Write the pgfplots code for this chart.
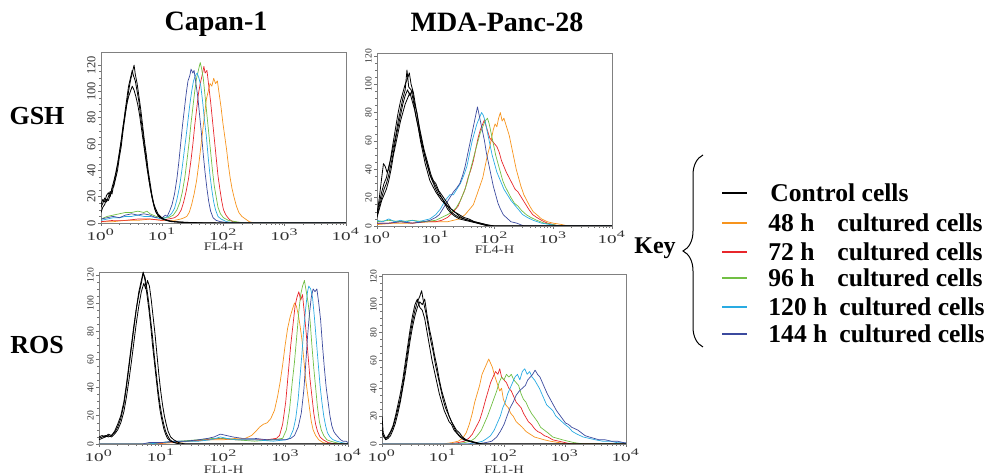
\documentclass[border=0pt]{standalone}
\usepackage{pgfplots}
\pgfplotsset{compat=1.18}
\usepackage{fontspec}
\setmainfont{Liberation Serif}
\usetikzlibrary{decorations.pathreplacing}
\definecolor{cOr}{RGB}{247,148,29}
\definecolor{cRd}{RGB}{232,38,43}
\definecolor{cGr}{RGB}{113,191,68}
\definecolor{cLb}{RGB}{41,171,226}
\definecolor{cDb}{RGB}{59,74,158}
\pgfplotsset{
 panel/.style={
  scale only axis, anchor=north west,
  xmin=0, xmax=4, ymin=0,
  xtick={0,1,2,3,4},
  xticklabels={10\textsuperscript{0},10\textsuperscript{1},10\textsuperscript{2},10\textsuperscript{3},10\textsuperscript{4}},
  minor xtick={0.301,0.477,0.602,0.699,0.778,0.845,0.903,0.954,1.301,1.477,1.602,1.699,1.778,1.845,1.903,1.954,2.301,2.477,2.602,2.699,2.778,2.845,2.903,2.954,3.301,3.477,3.602,3.699,3.778,3.845,3.903,3.954},
  ytick={0,20,...,120}, minor y tick num=3,
  tick pos=left, tick align=outside,
  major tick length=1.5pt, minor tick length=0.8pt,
  axis line style={black!50, line width=0.4pt},
  tick style={black!55, line width=0.3pt},
  /pgf/number format/assume math mode=true,
  xticklabel style={font=\fontsize{6}{7}\selectfont, xscale=1.6, text=black!80, inner sep=1pt},
  yticklabel style={font=\fontsize{4.8}{5}\selectfont, rotate=90, anchor=south, text=black!80, inner sep=1pt},
  xlabel style={font=\fontsize{5.8}{6}\selectfont, xscale=1.25, text=black!80, at={(axis description cs:0.5,0)}, anchor=north, inner sep=0pt},
  every axis plot/.append style={line width=0.35pt, line join=round},
 },
 K/.style={black, line width=0.4pt, forget plot},
}
\begin{document}
\begin{tikzpicture}
\useasboundingbox (0,0) rectangle (496.5pt,-237.5pt);
% ---------------- Panel 1: GSH, Capan-1
\begin{axis}[panel, at={(50.5pt,-26pt)}, width=122.5pt, height=85.5pt, ymax=130, xlabel={FL4-H}, xlabel style={yshift=-9.5pt},
 yticklabel style={font=\fontsize{6.2}{7}\selectfont}]
\addplot[cOr] coordinates {(0,1) (0.2,1) (0.4,2) (0.6,2) (0.8,3) (1.0,2) (1.2,2) (1.3,3) (1.36,4) (1.40,5) (1.44,8) (1.48,14) (1.52,22) (1.56,32) (1.60,46) (1.63,58) (1.66,70) (1.69,82) (1.72,94) (1.75,100) (1.78,106) (1.81,104) (1.84,110) (1.87,106) (1.90,108) (1.93,98) (1.96,88) (1.99,76) (2.02,66) (2.05,56) (2.08,44) (2.11,34) (2.14,26) (2.17,20) (2.21,13) (2.25,8) (2.30,5) (2.36,3) (2.42,1) (2.5,0) (4,0)};
\addplot[cRd] coordinates {(0,1) (0.2,2) (0.4,2) (0.6,3) (0.8,3) (1.0,2) (1.1,3) (1.2,4) (1.26,6) (1.31,10) (1.35,16) (1.39,24) (1.43,34) (1.47,48) (1.50,60) (1.53,74) (1.56,86) (1.59,98) (1.62,106) (1.65,112) (1.68,119) (1.70,114) (1.73,116) (1.76,104) (1.79,92) (1.82,78) (1.85,64) (1.88,50) (1.91,36) (1.94,26) (1.97,17) (2.0,10) (2.04,6) (2.09,3) (2.15,1) (2.3,0) (4,0)};
\addplot[cGr] coordinates {(0,3) (0.1,5) (0.2,6) (0.3,7) (0.4,8) (0.5,8) (0.6,9) (0.7,8) (0.75,9) (0.8,7) (0.9,5) (1.0,4) (1.1,4) (1.18,6) (1.24,10) (1.29,16) (1.33,24) (1.37,35) (1.41,50) (1.44,62) (1.47,76) (1.50,88) (1.53,100) (1.56,110) (1.59,116) (1.62,122) (1.64,118) (1.67,110) (1.70,96) (1.73,82) (1.76,68) (1.79,54) (1.82,40) (1.85,28) (1.88,20) (1.91,12) (1.95,7) (2.0,4) (2.08,2) (2.2,1) (2.35,0) (4,0)};
\addplot[cLb] coordinates {(0,2) (0.1,3) (0.2,4) (0.3,4) (0.4,5) (0.5,5) (0.6,6) (0.7,5) (0.8,5) (0.9,4) (1.0,3) (1.05,4) (1.1,5) (1.15,7) (1.20,11) (1.24,18) (1.28,27) (1.32,40) (1.36,55) (1.39,66) (1.42,78) (1.45,90) (1.48,100) (1.51,108) (1.54,112) (1.57,114) (1.60,110) (1.63,104) (1.66,92) (1.69,78) (1.72,66) (1.75,50) (1.78,36) (1.81,25) (1.84,16) (1.87,10) (1.91,5) (1.96,3) (2.05,1) (2.2,0) (4,0)};
\addplot[cDb] coordinates {(0,3) (0.1,4) (0.2,5) (0.3,4) (0.4,6) (0.5,7) (0.6,6) (0.7,7) (0.8,6) (0.9,4) (0.95,5) (1.0,4) (1.05,6) (1.08,5) (1.12,9) (1.16,14) (1.20,22) (1.24,34) (1.27,46) (1.30,60) (1.33,74) (1.36,86) (1.39,98) (1.42,108) (1.45,112) (1.47,117) (1.50,114) (1.52,116) (1.55,106) (1.58,96) (1.61,82) (1.64,68) (1.67,52) (1.70,38) (1.73,26) (1.76,16) (1.79,9) (1.83,4) (1.88,2) (1.95,1) (2.1,0) (4,0)};
\addplot[K] coordinates {(0,12) (0.03,15) (0.06,19) (0.09,16) (0.12,20) (0.15,24) (0.18,22) (0.21,30) (0.24,36) (0.27,44) (0.30,52) (0.33,62) (0.36,72) (0.39,84) (0.42,94) (0.45,104) (0.48,110) (0.51,116) (0.53,112) (0.56,108) (0.59,100) (0.62,92) (0.65,80) (0.68,70) (0.71,58) (0.74,48) (0.77,38) (0.80,28) (0.83,20) (0.86,14) (0.89,9) (0.93,6) (0.97,4) (1.02,3) (1.08,2) (1.15,1) (1.3,0.5) (1.5,0.3) (2,0) (4,0)};
\addplot[K] coordinates {(0,8) (0.03,12) (0.06,14) (0.09,18) (0.12,17) (0.15,21) (0.18,26) (0.21,28) (0.24,34) (0.27,40) (0.30,50) (0.33,58) (0.36,70) (0.39,80) (0.42,90) (0.45,100) (0.48,108) (0.51,114) (0.54,120) (0.56,113) (0.59,106) (0.62,96) (0.65,86) (0.68,74) (0.71,62) (0.74,52) (0.77,40) (0.80,31) (0.83,22) (0.86,15) (0.89,11) (0.93,7) (0.97,5) (1.02,3) (1.08,2) (1.2,1) (1.4,0.5) (1.7,0) (4,0)};
\addplot[K] coordinates {(0,14) (0.03,18) (0.06,16) (0.09,21) (0.12,23) (0.15,20) (0.18,27) (0.21,32) (0.24,38) (0.27,45) (0.30,54) (0.33,63) (0.36,74) (0.39,82) (0.42,90) (0.45,96) (0.48,100) (0.51,104) (0.54,101) (0.57,96) (0.60,90) (0.63,82) (0.66,72) (0.69,62) (0.72,52) (0.75,42) (0.78,33) (0.81,25) (0.84,18) (0.87,12) (0.90,8) (0.94,5) (1.0,3) (1.1,1.5) (1.25,0.8) (1.5,0) (4,0)};
\end{axis}
% ---------------- Panel 2: GSH, MDA-Panc-28
\begin{axis}[panel, at={(188.5pt,-26.5pt)}, width=117.5pt, height=86.5pt, ymax=122, xlabel={FL4-H}, xlabel style={yshift=-9.5pt}]
\addplot[cOr] coordinates {(0,1) (0.3,2) (0.6,2) (0.9,3) (1.2,3) (1.4,5) (1.5,8) (1.58,12) (1.64,15) (1.70,22) (1.75,28) (1.80,34) (1.84,42) (1.88,50) (1.92,56) (1.95,62) (1.98,68) (2.01,72) (2.04,70) (2.07,76) (2.10,80) (2.13,74) (2.16,76) (2.19,72) (2.22,68) (2.25,64) (2.28,58) (2.31,52) (2.34,46) (2.37,40) (2.41,34) (2.45,28) (2.50,22) (2.55,18) (2.60,14) (2.66,10) (2.72,8) (2.80,5) (2.90,3) (3.0,2) (3.15,1) (3.25,0) (4,0)};
\addplot[cRd] coordinates {(0,2) (0.2,2) (0.4,3) (0.6,2) (0.8,3) (1.0,3) (1.1,4) (1.2,6) (1.3,10) (1.38,14) (1.44,20) (1.50,26) (1.55,34) (1.60,40) (1.64,46) (1.68,54) (1.72,62) (1.76,68) (1.80,72) (1.83,75) (1.86,70) (1.89,66) (1.92,62) (1.96,60) (2.0,58) (2.04,56) (2.08,52) (2.12,46) (2.16,42) (2.20,38) (2.25,34) (2.30,30) (2.35,26) (2.40,24) (2.46,20) (2.52,16) (2.58,12) (2.65,8) (2.72,6) (2.80,4) (2.90,2) (3.0,1) (3.1,0) (4,0)};
\addplot[cGr] coordinates {(0,3) (0.2,4) (0.4,3) (0.6,4) (0.8,3) (1.0,4) (1.1,6) (1.2,8) (1.28,10) (1.35,13) (1.42,18) (1.48,24) (1.53,30) (1.58,38) (1.63,46) (1.68,54) (1.72,60) (1.76,66) (1.80,70) (1.84,74) (1.88,76) (1.91,72) (1.94,66) (1.98,58) (2.02,50) (2.06,44) (2.10,38) (2.14,32) (2.18,28) (2.23,24) (2.28,20) (2.34,16) (2.40,14) (2.46,11) (2.54,8) (2.62,6) (2.72,4) (2.85,2) (3.0,1) (3.1,0) (4,0)};
\addplot[cLb] coordinates {(0,4) (0.1,3) (0.2,5) (0.3,3) (0.4,4) (0.5,3) (0.6,4) (0.7,3) (0.8,4) (0.9,5) (1.0,8) (1.08,12) (1.16,18) (1.24,22) (1.30,22) (1.36,26) (1.42,30) (1.48,36) (1.53,42) (1.58,52) (1.62,60) (1.66,66) (1.70,72) (1.74,76) (1.78,80) (1.81,78) (1.84,74) (1.88,66) (1.92,58) (1.96,50) (2.0,44) (2.04,38) (2.08,34) (2.12,30) (2.16,26) (2.22,22) (2.28,18) (2.34,15) (2.40,12) (2.48,8) (2.56,6) (2.66,4) (2.80,2) (2.95,1) (3.1,0) (4,0)};
\addplot[cDb] coordinates {(0,2) (0.2,2) (0.4,3) (0.6,2) (0.8,3) (0.9,4) (1.0,6) (1.06,8) (1.12,12) (1.18,16) (1.24,20) (1.30,24) (1.36,27) (1.41,30) (1.46,36) (1.50,42) (1.54,50) (1.58,58) (1.62,66) (1.65,72) (1.68,78) (1.71,84) (1.74,78) (1.77,72) (1.80,66) (1.83,60) (1.86,52) (1.89,46) (1.92,40) (1.95,34) (1.98,28) (2.02,22) (2.06,16) (2.10,12) (2.15,8) (2.20,6) (2.28,3) (2.38,2) (2.5,0) (4,0)};
\addplot[K] coordinates {(0,8) (0.04,20) (0.08,34) (0.11,44) (0.14,42) (0.17,38) (0.20,40) (0.24,50) (0.28,60) (0.32,70) (0.36,80) (0.40,88) (0.44,94) (0.48,100) (0.52,104) (0.55,108) (0.58,100) (0.62,94) (0.66,84) (0.70,74) (0.74,64) (0.78,56) (0.82,48) (0.86,42) (0.90,36) (0.95,32) (1.0,28) (1.05,24) (1.10,20) (1.15,17) (1.20,14) (1.26,10) (1.32,8) (1.40,6) (1.48,5) (1.56,4) (1.64,3) (1.72,2) (1.80,1) (1.9,0) (4,0)};
\addplot[K] coordinates {(0,6) (0.04,12) (0.08,18) (0.12,22) (0.16,26) (0.20,32) (0.24,40) (0.28,50) (0.32,58) (0.36,66) (0.40,74) (0.44,80) (0.48,86) (0.52,90) (0.56,94) (0.60,88) (0.64,82) (0.68,74) (0.72,66) (0.76,58) (0.80,52) (0.84,46) (0.88,40) (0.92,34) (0.96,30) (1.0,26) (1.05,22) (1.10,20) (1.15,16) (1.20,14) (1.26,12) (1.32,10) (1.40,7) (1.48,5) (1.56,4) (1.66,3) (1.76,2) (1.85,1) (1.95,0) (4,0)};
\addplot[K] coordinates {(0,10) (0.04,16) (0.08,24) (0.12,30) (0.16,34) (0.20,42) (0.24,48) (0.28,56) (0.32,64) (0.36,74) (0.40,82) (0.44,90) (0.48,96) (0.51,110) (0.54,98) (0.58,96) (0.62,88) (0.66,78) (0.70,70) (0.74,60) (0.78,52) (0.82,44) (0.86,38) (0.90,32) (0.95,28) (1.0,24) (1.05,21) (1.10,18) (1.15,16) (1.20,12) (1.26,9) (1.32,7) (1.40,5) (1.50,4) (1.60,3) (1.70,2) (1.80,1) (1.9,0) (4,0)};
\addplot[K] coordinates {(0,7) (0.04,14) (0.08,20) (0.12,26) (0.16,30) (0.20,36) (0.24,44) (0.28,52) (0.32,62) (0.36,70) (0.40,78) (0.44,86) (0.48,92) (0.52,96) (0.56,92) (0.60,96) (0.64,86) (0.68,80) (0.72,70) (0.76,62) (0.80,54) (0.84,48) (0.88,42) (0.92,36) (0.96,32) (1.0,30) (1.05,25) (1.10,22) (1.15,19) (1.20,16) (1.26,12) (1.32,10) (1.40,8) (1.48,6) (1.56,5) (1.66,3) (1.76,2) (1.86,1) (2.0,0) (4,0)};
\end{axis}
% ---------------- Panel 3: ROS, Capan-1
\begin{axis}[panel, at={(49.5pt,-136pt)}, width=124.5pt, height=86pt, ymax=122, xlabel={FL1-H}, xlabel style={yshift=-10.5pt}]
\addplot[cOr] coordinates {(0,0) (0.9,0) (1.2,1) (1.5,2) (1.8,3) (2.0,3) (2.2,4) (2.35,4) (2.45,6) (2.52,9) (2.58,12) (2.64,14) (2.70,15) (2.76,18) (2.82,24) (2.87,34) (2.91,44) (2.95,56) (2.99,70) (3.03,82) (3.07,90) (3.11,96) (3.14,100) (3.17,98) (3.20,92) (3.23,84) (3.26,74) (3.29,60) (3.32,46) (3.35,36) (3.38,26) (3.41,16) (3.44,10) (3.48,6) (3.53,3) (3.60,1) (3.7,0) (4,0)};
\addplot[cRd] coordinates {(0,0) (0.8,0) (1.1,1) (1.4,2) (1.7,3) (1.95,4) (2.2,3) (2.5,3) (2.7,3) (2.85,4) (2.90,6) (2.95,14) (3.00,30) (3.04,50) (3.08,70) (3.12,86) (3.15,98) (3.18,104) (3.21,108) (3.24,102) (3.27,106) (3.30,92) (3.33,78) (3.36,62) (3.39,46) (3.42,34) (3.45,22) (3.48,14) (3.51,9) (3.55,5) (3.60,3) (3.68,1) (3.8,0) (4,0)};
\addplot[cGr] coordinates {(0,0) (0.8,0) (1.0,1) (1.3,2) (1.6,3) (1.85,4) (2.0,4) (2.2,3) (2.5,2) (2.8,3) (2.95,4) (3.01,10) (3.06,24) (3.10,42) (3.14,58) (3.18,78) (3.21,94) (3.24,106) (3.27,112) (3.30,116) (3.33,108) (3.36,100) (3.39,88) (3.42,70) (3.45,54) (3.48,40) (3.51,26) (3.54,16) (3.57,10) (3.61,6) (3.66,3) (3.72,2) (3.8,1) (3.9,0) (4,0)};
\addplot[cLb] coordinates {(0,0) (0.8,0) (1.0,1) (1.3,2) (1.6,2) (1.8,3) (1.95,5) (2.05,4) (2.2,3) (2.5,3) (2.8,2) (3.0,3) (3.06,4) (3.12,10) (3.16,18) (3.20,32) (3.23,48) (3.26,64) (3.29,82) (3.32,96) (3.35,108) (3.37,112) (3.40,110) (3.43,104) (3.46,90) (3.49,74) (3.52,58) (3.55,42) (3.58,30) (3.61,20) (3.64,13) (3.67,8) (3.71,5) (3.76,3) (3.82,2) (3.9,1) (4,0)};
\addplot[cDb] coordinates {(0,0) (0.7,0) (0.8,1) (1.0,1) (1.2,2) (1.4,2) (1.6,3) (1.75,4) (1.85,5) (1.95,7) (2.05,6) (2.15,5) (2.3,4) (2.5,4) (2.7,3) (2.9,3) (3.0,3) (3.08,4) (3.14,6) (3.20,12) (3.25,22) (3.29,38) (3.32,56) (3.35,76) (3.38,92) (3.41,104) (3.44,110) (3.47,108) (3.50,110) (3.53,100) (3.56,88) (3.59,70) (3.62,54) (3.65,40) (3.68,30) (3.71,20) (3.74,13) (3.77,9) (3.80,7) (3.84,5) (3.88,3) (3.92,2) (3.97,2) (4,1)};
\addplot[K] coordinates {(0,4) (0.05,5) (0.10,6) (0.15,5) (0.20,6) (0.25,8) (0.30,12) (0.35,18) (0.40,28) (0.44,40) (0.48,54) (0.52,68) (0.56,82) (0.60,96) (0.64,106) (0.68,114) (0.71,121) (0.74,118) (0.77,110) (0.80,100) (0.83,88) (0.86,76) (0.89,62) (0.92,50) (0.95,38) (0.98,28) (1.01,20) (1.04,14) (1.07,9) (1.10,6) (1.14,3) (1.20,1) (1.3,0) (4,0)};
\addplot[K] coordinates {(0,3) (0.05,4) (0.10,5) (0.15,6) (0.20,5) (0.25,7) (0.30,10) (0.35,15) (0.40,23) (0.44,33) (0.48,45) (0.52,58) (0.56,72) (0.60,86) (0.64,98) (0.68,108) (0.72,114) (0.75,110) (0.78,116) (0.81,112) (0.84,102) (0.87,90) (0.90,78) (0.93,64) (0.96,50) (0.99,38) (1.02,28) (1.05,20) (1.08,14) (1.11,9) (1.15,5) (1.20,3) (1.28,1) (1.38,0) (4,0)};
\addplot[K] coordinates {(0,5) (0.05,6) (0.10,5) (0.15,7) (0.20,6) (0.25,9) (0.30,14) (0.35,20) (0.40,30) (0.44,42) (0.48,56) (0.52,70) (0.56,84) (0.60,96) (0.64,108) (0.68,116) (0.71,122) (0.74,116) (0.77,106) (0.80,96) (0.83,84) (0.86,70) (0.89,58) (0.92,46) (0.95,34) (0.98,24) (1.01,17) (1.04,11) (1.07,7) (1.10,4) (1.15,2) (1.22,1) (1.3,0) (4,0)};
\end{axis}
% ---------------- Panel 4: ROS, MDA-Panc-28
\begin{axis}[panel, at={(191pt,-137pt)}, width=122pt, height=85pt, ymax=122, xlabel={FL1-H}, xlabel style={yshift=-10.5pt}]
\addplot[cOr] coordinates {(0,0) (1.0,0) (1.15,1) (1.25,2) (1.32,4) (1.38,8) (1.43,14) (1.48,22) (1.52,30) (1.56,36) (1.60,42) (1.64,50) (1.68,54) (1.72,58) (1.75,61) (1.78,58) (1.81,55) (1.84,50) (1.87,46) (1.90,42) (1.93,38) (1.96,40) (1.99,32) (2.03,28) (2.07,26) (2.11,22) (2.15,20) (2.20,16) (2.25,14) (2.30,12) (2.36,9) (2.43,7) (2.50,5) (2.58,4) (2.66,3) (2.76,2) (2.9,1) (3.0,0) (4,0)};
\addplot[cRd] coordinates {(0,0) (1.1,0) (1.25,1) (1.35,2) (1.42,4) (1.48,7) (1.54,12) (1.60,17) (1.65,24) (1.70,32) (1.74,38) (1.78,44) (1.82,48) (1.86,52) (1.90,50) (1.93,54) (1.96,48) (2.00,46) (2.04,44) (2.08,40) (2.12,38) (2.16,34) (2.20,30) (2.24,28) (2.28,26) (2.32,22) (2.36,19) (2.40,16) (2.45,14) (2.50,11) (2.55,9) (2.60,8) (2.66,6) (2.72,5) (2.80,3) (2.90,2) (3.0,1) (3.1,0) (4,0)};
\addplot[cGr] coordinates {(0,0) (1.2,0) (1.35,1) (1.45,2) (1.52,4) (1.58,7) (1.63,10) (1.68,15) (1.73,20) (1.78,26) (1.83,32) (1.88,38) (1.92,44) (1.96,48) (2.00,46) (2.04,50) (2.08,48) (2.12,50) (2.16,46) (2.20,44) (2.24,42) (2.28,36) (2.32,32) (2.36,30) (2.40,26) (2.45,22) (2.50,19) (2.55,16) (2.60,12) (2.66,10) (2.72,8) (2.80,5) (2.88,4) (2.96,3) (3.05,2) (3.15,1) (3.3,0) (4,0)};
\addplot[cLb] coordinates {(0,0) (1.4,0) (1.55,1) (1.65,2) (1.72,4) (1.78,6) (1.84,10) (1.89,15) (1.94,20) (1.98,26) (2.02,30) (2.06,36) (2.10,40) (2.14,44) (2.18,48) (2.22,50) (2.26,46) (2.30,52) (2.34,54) (2.38,50) (2.42,52) (2.46,48) (2.50,46) (2.54,43) (2.58,40) (2.62,36) (2.66,32) (2.70,28) (2.75,26) (2.80,24) (2.85,20) (2.90,18) (2.95,16) (3.00,14) (3.06,12) (3.12,9) (3.20,7) (3.30,5) (3.40,4) (3.50,3) (3.62,2) (3.75,2) (3.85,1) (3.96,1) (4,0)};
\addplot[cDb] coordinates {(0,0) (1.55,0) (1.70,1) (1.80,2) (1.88,5) (1.94,9) (2.00,14) (2.05,20) (2.10,26) (2.15,30) (2.20,35) (2.25,38) (2.30,40) (2.35,42) (2.39,46) (2.43,48) (2.47,50) (2.51,53) (2.55,50) (2.59,48) (2.63,44) (2.67,40) (2.71,36) (2.76,32) (2.81,28) (2.86,24) (2.91,21) (2.96,18) (3.01,15) (3.06,14) (3.11,12) (3.16,11) (3.21,10) (3.27,8) (3.33,6) (3.40,5) (3.48,4) (3.56,3) (3.66,3) (3.76,2) (3.86,2) (3.96,1) (4,1)};
\addplot[K] coordinates {(0,20) (0.02,8) (0.06,4) (0.10,5) (0.14,8) (0.18,12) (0.22,18) (0.26,25) (0.30,32) (0.34,42) (0.38,54) (0.42,66) (0.46,78) (0.50,88) (0.54,96) (0.58,102) (0.62,106) (0.65,110) (0.68,102) (0.72,94) (0.76,84) (0.80,74) (0.84,66) (0.88,56) (0.92,48) (0.96,40) (1.00,32) (1.04,26) (1.08,22) (1.12,18) (1.16,14) (1.20,10) (1.25,7) (1.30,5) (1.36,3) (1.44,2) (1.52,1) (1.6,0) (4,0)};
\addplot[K] coordinates {(0,12) (0.02,6) (0.06,3) (0.10,4) (0.14,6) (0.18,10) (0.22,15) (0.26,22) (0.30,30) (0.34,40) (0.38,50) (0.42,62) (0.46,74) (0.50,84) (0.54,92) (0.58,98) (0.62,102) (0.66,100) (0.70,104) (0.74,92) (0.78,82) (0.82,74) (0.86,64) (0.90,56) (0.94,46) (0.98,38) (1.02,32) (1.06,26) (1.10,20) (1.14,16) (1.18,13) (1.22,10) (1.27,8) (1.32,5) (1.38,3) (1.46,2) (1.55,1) (1.65,0) (4,0)};
\addplot[K] coordinates {(0,8) (0.03,5) (0.06,4) (0.10,6) (0.14,9) (0.18,13) (0.22,20) (0.26,28) (0.30,36) (0.34,46) (0.38,58) (0.42,70) (0.46,82) (0.50,92) (0.54,100) (0.58,104) (0.62,98) (0.66,96) (0.70,90) (0.74,80) (0.78,70) (0.82,60) (0.86,52) (0.90,44) (0.94,36) (0.98,30) (1.02,24) (1.06,20) (1.10,16) (1.14,14) (1.18,10) (1.22,8) (1.28,5) (1.34,3) (1.42,2) (1.50,1) (1.6,0) (4,0)};
\end{axis}
% ---------------- titles and row labels
\node[font=\fontsize{14}{16}\selectfont\bfseries] at (108pt,-12pt) {Capan-1};
\node[font=\fontsize{14}{16}\selectfont\bfseries] at (248.5pt,-11pt) {MDA-Panc-28};
\node[font=\fontsize{13}{15}\selectfont\bfseries] at (18.5pt,-58pt) {GSH};
\node[font=\fontsize{13}{15}\selectfont\bfseries] at (18.5pt,-172.5pt) {ROS};
% ---------------- key
\node[font=\fontsize{12}{14}\selectfont\bfseries] at (327.5pt,-124pt) {Key};
\draw[line width=0.5pt, decorate, decoration={brace, amplitude=10pt, aspect=0.5}] (351.5pt,-173.5pt) -- (351.5pt,-77.5pt);
\begin{scope}[font=\fontsize{12.8}{14}\selectfont\bfseries]
\draw[black, line width=0.8pt] (361pt,-96.5pt) -- (373.5pt,-96.5pt);
\node[anchor=west, inner sep=0pt] at (385pt,-96.5pt) {Control cells};
\draw[cOr, line width=0.8pt] (361pt,-111.5pt) -- (373.5pt,-111.5pt);
\node[anchor=west, inner sep=0pt] at (384pt,-111.5pt) {48 h};
\node[anchor=west, inner sep=0pt] at (418.5pt,-111.5pt) {cultured cells};
\draw[cRd, line width=0.8pt] (361pt,-126pt) -- (373.5pt,-126pt);
\node[anchor=west, inner sep=0pt] at (384pt,-126pt) {72 h};
\node[anchor=west, inner sep=0pt] at (418.5pt,-126pt) {cultured cells};
\draw[cGr, line width=0.8pt] (361pt,-139pt) -- (373.5pt,-139pt);
\node[anchor=west, inner sep=0pt] at (384pt,-139pt) {96 h};
\node[anchor=west, inner sep=0pt] at (418.5pt,-139pt) {cultured cells};
\draw[cLb, line width=0.8pt] (361pt,-153.5pt) -- (373.5pt,-153.5pt);
\node[anchor=west, inner sep=0pt] at (384pt,-153.5pt) {120 h};
\node[anchor=west, inner sep=0pt] at (419.5pt,-153.5pt) {cultured cells};
\draw[cDb, line width=0.8pt] (361pt,-167pt) -- (373.5pt,-167pt);
\node[anchor=west, inner sep=0pt] at (384pt,-167pt) {144 h};
\node[anchor=west, inner sep=0pt] at (419.5pt,-167pt) {cultured cells};
\end{scope}
\end{tikzpicture}
\end{document}
